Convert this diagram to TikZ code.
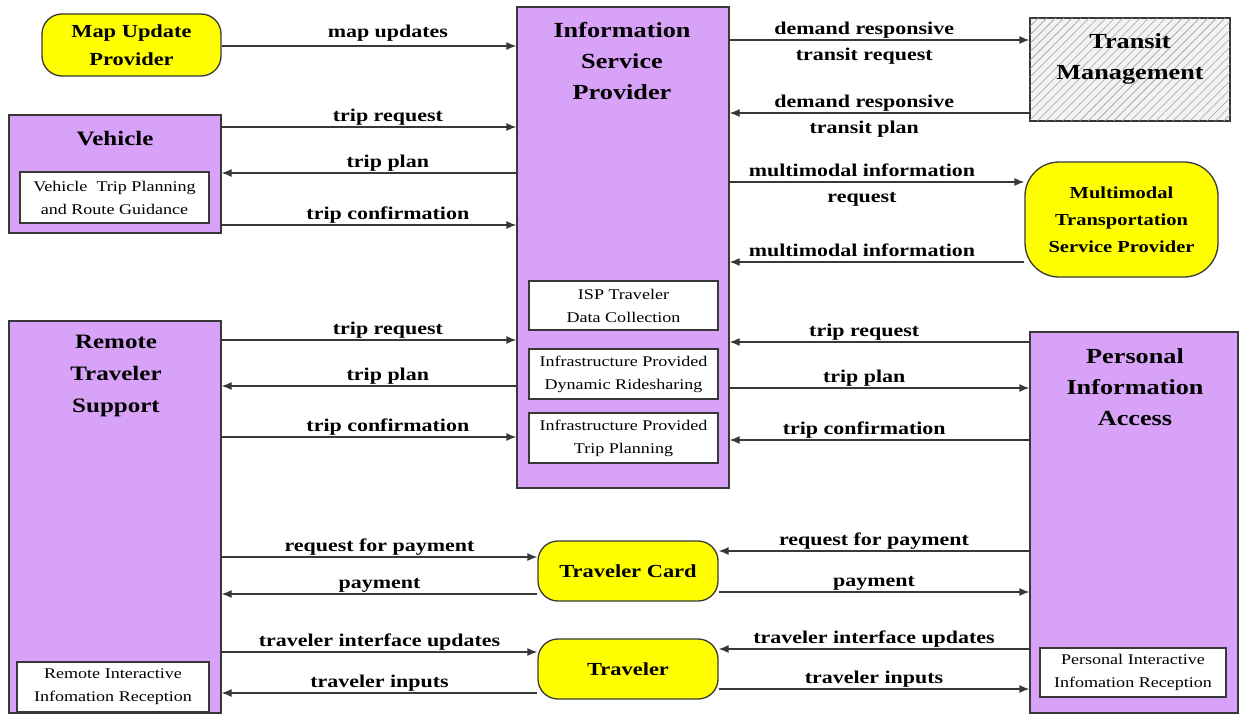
\documentclass[tikz,border=0pt]{standalone}
\usepackage{fontspec}
\setmainfont{Liberation Serif}[FakeStretch=1.22]
\usetikzlibrary{arrows.meta,patterns.meta}
\definecolor{lav}{HTML}{D8A2F8}
\definecolor{ylw}{HTML}{FFFF00}
\definecolor{edge}{HTML}{383838}
\definecolor{hatchbg}{HTML}{F3F3F3}
\begin{document}
\begin{tikzpicture}[x=1pt,y=-1pt,
  box/.style={draw=edge,line width=1.3pt,fill=lav,inner sep=0pt},
  ybox/.style={draw=edge,line width=1.3pt,fill=ylw,rounded corners=20pt,align=center,inner sep=0pt,font=\fontsize{18.4}{28}\selectfont\bfseries},
  inbox/.style={draw=edge,line width=1.1pt,fill=white,align=center,inner sep=0pt,font=\fontsize{14.8}{23}\selectfont},
  title/.style={align=center,inner sep=0pt,font=\fontsize{21.5}{31}\selectfont\bfseries},
  arr/.style={draw=edge,line width=1.3pt,-{Latex[length=10pt,width=8pt]}},
  lbl/.style={anchor=south,inner sep=3pt,text height=0.7em,text depth=0.22em,font=\fontsize{18}{22}\selectfont\bfseries},
  lblb/.style={anchor=north,inner sep=3pt,yshift=-10pt,text height=0.7em,text depth=0.22em,font=\fontsize{18}{22}\selectfont\bfseries}
]
\useasboundingbox (0,0) rectangle (1239,717);
\fill[white] (0,0) rectangle (1239,717);

% main boxes
\node[ybox,minimum width=179pt,minimum height=62pt] (mup) at (131.5,45) {Map Update\\Provider};
\node[box,minimum width=212pt,minimum height=118pt] (veh) at (115,174) {};
\node[title,font=\fontsize{20.5}{31}\selectfont\bfseries] (vehT) at (115,139) {Vehicle};
\node[inbox,minimum width=189pt,minimum height=51pt] (vehI) at (114.5,197.5) {Vehicle\ \ Trip Planning\\and Route Guidance};

\node[box,minimum width=212pt,minimum height=481pt] (isp) at (623,247.5) {};
\node[title] (ispT) at (622,61) {Information\\Service\\Provider};
\node[inbox,minimum width=189pt,minimum height=49pt] (ispA) at (623.5,305.5) {ISP Traveler\\Data Collection};
\node[inbox,minimum width=189pt,minimum height=50pt] (ispB) at (623.5,374) {Infrastructure Provided\\Dynamic Ridesharing};
\node[inbox,minimum width=189pt,minimum height=50pt] (ispC) at (623.5,438) {Infrastructure Provided\\Trip Planning};

\node[draw=edge,line width=1.3pt,fill=hatchbg,minimum width=200pt,minimum height=103pt,inner sep=0pt] (tm) at (1130,69.5) {};
\fill[pattern={Lines[angle=45,distance=6pt,line width=0.6pt]},pattern color=gray!75] (tm.south west) rectangle (tm.north east);
\draw[edge,line width=1.3pt] (tm.south west) rectangle (tm.north east);
\node[title] (tmT) at (1130,59) {Transit\\Management};

\node[ybox,rounded corners=34pt,minimum width=193pt,minimum height=115pt,font=\fontsize{16.8}{27}\selectfont\bfseries] (mts) at (1121.5,219.5) {Multimodal\\Transportation\\Service Provider};

\node[box,minimum width=212pt,minimum height=392pt] (rts) at (115,517) {};
\node[title,font=\fontsize{20.5}{32}\selectfont\bfseries] (rtsT) at (116,376) {Remote\\Traveler\\Support};
\node[inbox,minimum width=192pt,minimum height=50pt] (rtsI) at (113,687) {Remote Interactive\\Infomation Reception};

\node[box,minimum width=208pt,minimum height=381pt] (pia) at (1134,522.5) {};
\node[title] (piaT) at (1135,387) {Personal\\Information\\Access};
\node[inbox,minimum width=186pt,minimum height=49pt] (piaI) at (1133,672.5) {Personal Interactive\\Infomation Reception};

\node[ybox,minimum width=180pt,minimum height=60pt] (tc) at (628,571) {Traveler Card};
\node[ybox,minimum width=180pt,minimum height=60pt] (trv) at (628,669) {Traveler};

% connectors: upper left
\draw[arr] (mup.east |- 0,46) -- node[lbl,pos=.564,yshift=3pt]{map updates} (isp.west |- 0,46);
\draw[arr] (veh.east |- 0,127) -- node[lbl,pos=.564]{trip request} (isp.west |- 0,127);
\draw[arr] (isp.west |- 0,173) -- node[lbl,pos=.436]{trip plan} (veh.east |- 0,173);
\draw[arr] (veh.east |- 0,225) -- node[lbl,pos=.564]{trip confirmation} (isp.west |- 0,225);

% upper right
\draw[arr] (isp.east |- 0,40) -- node[lbl,pos=.449]{demand responsive} node[lblb,pos=.449]{transit request} (tm.west |- 0,40);
\draw[arr] (tm.west |- 0,113) -- node[lbl,pos=.551]{demand responsive} node[lblb,pos=.551]{transit plan} (isp.east |- 0,113);
\draw[arr] (isp.east |- 0,182) -- node[lbl,pos=.449]{multimodal information} node[lblb,pos=.449]{request} (mts.west |- 0,182);
\draw[arr] (mts.west |- 0,262) -- node[lbl,pos=.551]{multimodal information} (isp.east |- 0,262);

% middle left
\draw[arr] (rts.east |- 0,340) -- node[lbl,pos=.564]{trip request} (isp.west |- 0,340);
\draw[arr] (isp.west |- 0,386) -- node[lbl,pos=.436]{trip plan} (rts.east |- 0,386);
\draw[arr] (rts.east |- 0,437) -- node[lbl,pos=.564]{trip confirmation} (isp.west |- 0,437);

% middle right
\draw[arr] (pia.west |- 0,342) -- node[lbl,pos=.551]{trip request} (isp.east |- 0,342);
\draw[arr] (isp.east |- 0,388) -- node[lbl,pos=.449]{trip plan} (pia.west |- 0,388);
\draw[arr] (pia.west |- 0,440) -- node[lbl,pos=.551]{trip confirmation} (isp.east |- 0,440);

% traveler card
\draw[arr] (rts.east |- 0,557) -- node[lbl,pos=.5]{request for payment} (tc.west |- 0,557);
\draw[arr] (tc.west |- 0,594) -- node[lbl,pos=.5]{payment} (rts.east |- 0,594);
\draw[arr] (pia.west |- 0,551) -- node[lbl,pos=.5]{request for payment} (tc.east |- 0,551);
\draw[arr] (tc.east |- 0,592) -- node[lbl,pos=.5]{payment} (pia.west |- 0,592);

% traveler
\draw[arr] (rts.east |- 0,652) -- node[lbl,pos=.5]{traveler interface updates} (trv.west |- 0,652);
\draw[arr] (trv.west |- 0,693) -- node[lbl,pos=.5]{traveler inputs} (rts.east |- 0,693);
\draw[arr] (pia.west |- 0,649) -- node[lbl,pos=.5]{traveler interface updates} (trv.east |- 0,649);
\draw[arr] (trv.east |- 0,689) -- node[lbl,pos=.5]{traveler inputs} (pia.west |- 0,689);
\end{tikzpicture}
\end{document}
